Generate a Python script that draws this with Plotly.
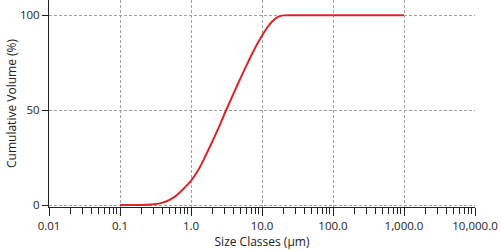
import plotly.graph_objects as go

size_um = [0.1, 0.2, 0.3, 0.4, 0.5, 0.6, 0.7, 0.8, 0.9, 1.0, 1.2, 1.5, 2.0, 2.5,
           3.0, 4.0, 5.0, 6.0, 7.0, 8.0, 9.0, 10.0, 12.0, 14.0, 16.0, 18.0, 20.0, 25.0,
           30.0, 100.0, 1000.0]
cum_vol = [0.0, 0.05, 0.4, 1.3, 2.8, 4.6, 6.8, 8.9, 10.9, 12.8, 17.0, 23.7, 33.5, 41.5,
           48.5, 59.0, 67.0, 73.3, 78.5, 82.8, 86.3, 89.2, 93.8, 96.8, 98.6, 99.5, 99.9, 100.0,
           100.0, 100.0, 100.0]

x_tickvals = [0.01, 0.1, 1, 10, 100, 1000, 10000]
x_ticktext = ["0.01", "0.1", "1.0", "10.0", "100.0", "1,000.0", "10,000.0"]
x_minor = [m * 10 ** e for e in range(-2, 4) for m in range(2, 10)]
y_tickvals = [0, 50, 100]

fig = go.Figure()
fig.add_trace(go.Scatter(x=size_um, y=cum_vol, mode="lines",
                         line=dict(color="#d9262b", width=2, shape="spline", smoothing=0.3),
                         showlegend=False, hoverinfo="skip"))

font = dict(family="Open Sans, Noto Sans, sans-serif", size=11.5, color="#222222")
grid = dict(showgrid=True, gridcolor="#a0a0a0", griddash="3px,2px", gridwidth=1)
fig.update_layout(
    width=501, height=250,
    margin=dict(l=49, r=26, t=0, b=43),
    paper_bgcolor="white", plot_bgcolor="white",
    font=font,
    xaxis=dict(type="log", range=[-2, 4], tickvals=x_tickvals, ticktext=x_ticktext,
               showline=True, linecolor="#222222", linewidth=1,
               ticks="outside", ticklen=8, tickcolor="#222222",
               minor=dict(tickmode="array", tickvals=x_minor, ticks="outside", ticklen=6,
                          tickcolor="#222222", showgrid=False),
               title=dict(text="Size Classes (µm)", standoff=6, font=dict(size=12)),
               zeroline=False, **grid),
    yaxis=dict(range=[-1, 108], tickvals=y_tickvals,
               showline=True, linecolor="#222222", linewidth=1,
               ticks="outside", ticklen=6, tickcolor="#222222",
               title=dict(text="Cumulative Volume (%)", standoff=0, font=dict(size=12)),
               zeroline=False, **grid),
)
fig.write_html("out.html")
